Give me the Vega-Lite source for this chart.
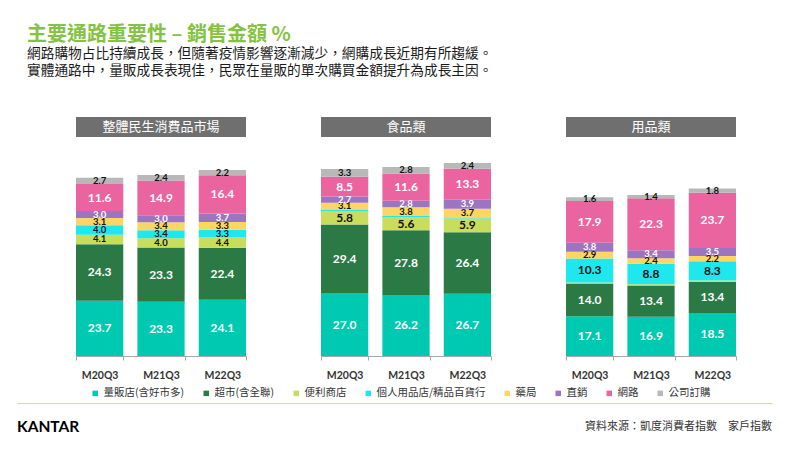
{
  "$schema": "https://vega.github.io/schema/vega-lite/v6.json",
  "background": "white",
  "padding": {"left": 17, "top": 25, "right": 10, "bottom": 5},
  "title": {
    "text": "主要通路重要性 – 銷售金額 %",
    "subtitle": ["網路購物占比持續成長，但隨著疫情影響逐漸減少，網購成長近期有所趨緩。", "實體通路中，量販成長表現佳，民眾在量販的單次購買金額提升為成長主因。"],
    "anchor": "start", "dx": 10,
    "font": "Noto Sans CJK TC", "fontSize": 20, "fontWeight": "bold", "color": "#84c341",
    "subtitleFont": "Noto Sans CJK TC", "subtitleFontSize": 13.7, "subtitleColor": "#1a1a1a",
    "subtitleLineHeight": 16.5, "subtitlePadding": 2, "offset": 39.5
  },
  "datasets": {
    "chs": [
      {"ch": "量販店(含好市多)", "k": 1}, {"ch": "超市(含全聯)", "k": 2}, {"ch": "便利商店", "k": 3},
      {"ch": "個人用品店/精品百貨行", "k": 4}, {"ch": "藥局", "k": 5}, {"ch": "直銷", "k": 6},
      {"ch": "網路", "k": 7}, {"ch": "公司訂購", "k": 8}
    ],
    "main": [
      {"p": "整體民生消費品市場", "q": "M20Q3", "ch": "量販店(含好市多)", "v": 23.7},
      {"p": "整體民生消費品市場", "q": "M20Q3", "ch": "超市(含全聯)", "v": 24.3},
      {"p": "整體民生消費品市場", "q": "M20Q3", "ch": "便利商店", "v": 4.1},
      {"p": "整體民生消費品市場", "q": "M20Q3", "ch": "個人用品店/精品百貨行", "v": 4.0},
      {"p": "整體民生消費品市場", "q": "M20Q3", "ch": "藥局", "v": 3.1},
      {"p": "整體民生消費品市場", "q": "M20Q3", "ch": "直銷", "v": 3.0},
      {"p": "整體民生消費品市場", "q": "M20Q3", "ch": "網路", "v": 11.6},
      {"p": "整體民生消費品市場", "q": "M20Q3", "ch": "公司訂購", "v": 2.7},
      {"p": "整體民生消費品市場", "q": "M21Q3", "ch": "量販店(含好市多)", "v": 23.3},
      {"p": "整體民生消費品市場", "q": "M21Q3", "ch": "超市(含全聯)", "v": 23.3},
      {"p": "整體民生消費品市場", "q": "M21Q3", "ch": "便利商店", "v": 4.0},
      {"p": "整體民生消費品市場", "q": "M21Q3", "ch": "個人用品店/精品百貨行", "v": 3.4},
      {"p": "整體民生消費品市場", "q": "M21Q3", "ch": "藥局", "v": 3.4},
      {"p": "整體民生消費品市場", "q": "M21Q3", "ch": "直銷", "v": 3.0},
      {"p": "整體民生消費品市場", "q": "M21Q3", "ch": "網路", "v": 14.9},
      {"p": "整體民生消費品市場", "q": "M21Q3", "ch": "公司訂購", "v": 2.4},
      {"p": "整體民生消費品市場", "q": "M22Q3", "ch": "量販店(含好市多)", "v": 24.1},
      {"p": "整體民生消費品市場", "q": "M22Q3", "ch": "超市(含全聯)", "v": 22.4},
      {"p": "整體民生消費品市場", "q": "M22Q3", "ch": "便利商店", "v": 4.4},
      {"p": "整體民生消費品市場", "q": "M22Q3", "ch": "個人用品店/精品百貨行", "v": 3.3},
      {"p": "整體民生消費品市場", "q": "M22Q3", "ch": "藥局", "v": 3.3},
      {"p": "整體民生消費品市場", "q": "M22Q3", "ch": "直銷", "v": 3.7},
      {"p": "整體民生消費品市場", "q": "M22Q3", "ch": "網路", "v": 16.4},
      {"p": "整體民生消費品市場", "q": "M22Q3", "ch": "公司訂購", "v": 2.2},
      {"p": "食品類", "q": "M20Q3", "ch": "量販店(含好市多)", "v": 27.0},
      {"p": "食品類", "q": "M20Q3", "ch": "超市(含全聯)", "v": 29.4},
      {"p": "食品類", "q": "M20Q3", "ch": "便利商店", "v": 5.8},
      {"p": "食品類", "q": "M20Q3", "ch": "個人用品店/精品百貨行", "v": 0.5},
      {"p": "食品類", "q": "M20Q3", "ch": "藥局", "v": 3.1},
      {"p": "食品類", "q": "M20Q3", "ch": "直銷", "v": 2.7},
      {"p": "食品類", "q": "M20Q3", "ch": "網路", "v": 8.5},
      {"p": "食品類", "q": "M20Q3", "ch": "公司訂購", "v": 3.3},
      {"p": "食品類", "q": "M21Q3", "ch": "量販店(含好市多)", "v": 26.2},
      {"p": "食品類", "q": "M21Q3", "ch": "超市(含全聯)", "v": 27.8},
      {"p": "食品類", "q": "M21Q3", "ch": "便利商店", "v": 5.6},
      {"p": "食品類", "q": "M21Q3", "ch": "個人用品店/精品百貨行", "v": 0.5},
      {"p": "食品類", "q": "M21Q3", "ch": "藥局", "v": 3.8},
      {"p": "食品類", "q": "M21Q3", "ch": "直銷", "v": 2.8},
      {"p": "食品類", "q": "M21Q3", "ch": "網路", "v": 11.6},
      {"p": "食品類", "q": "M21Q3", "ch": "公司訂購", "v": 2.8},
      {"p": "食品類", "q": "M22Q3", "ch": "量販店(含好市多)", "v": 26.7},
      {"p": "食品類", "q": "M22Q3", "ch": "超市(含全聯)", "v": 26.4},
      {"p": "食品類", "q": "M22Q3", "ch": "便利商店", "v": 5.9},
      {"p": "食品類", "q": "M22Q3", "ch": "個人用品店/精品百貨行", "v": 0.5},
      {"p": "食品類", "q": "M22Q3", "ch": "藥局", "v": 3.7},
      {"p": "食品類", "q": "M22Q3", "ch": "直銷", "v": 3.9},
      {"p": "食品類", "q": "M22Q3", "ch": "網路", "v": 13.3},
      {"p": "食品類", "q": "M22Q3", "ch": "公司訂購", "v": 2.4},
      {"p": "用品類", "q": "M20Q3", "ch": "量販店(含好市多)", "v": 17.1},
      {"p": "用品類", "q": "M20Q3", "ch": "超市(含全聯)", "v": 14.0},
      {"p": "用品類", "q": "M20Q3", "ch": "便利商店", "v": 0.5},
      {"p": "用品類", "q": "M20Q3", "ch": "個人用品店/精品百貨行", "v": 10.3},
      {"p": "用品類", "q": "M20Q3", "ch": "藥局", "v": 2.9},
      {"p": "用品類", "q": "M20Q3", "ch": "直銷", "v": 3.8},
      {"p": "用品類", "q": "M20Q3", "ch": "網路", "v": 17.9},
      {"p": "用品類", "q": "M20Q3", "ch": "公司訂購", "v": 1.6},
      {"p": "用品類", "q": "M21Q3", "ch": "量販店(含好市多)", "v": 16.9},
      {"p": "用品類", "q": "M21Q3", "ch": "超市(含全聯)", "v": 13.4},
      {"p": "用品類", "q": "M21Q3", "ch": "便利商店", "v": 0.5},
      {"p": "用品類", "q": "M21Q3", "ch": "個人用品店/精品百貨行", "v": 8.8},
      {"p": "用品類", "q": "M21Q3", "ch": "藥局", "v": 2.4},
      {"p": "用品類", "q": "M21Q3", "ch": "直銷", "v": 3.4},
      {"p": "用品類", "q": "M21Q3", "ch": "網路", "v": 22.3},
      {"p": "用品類", "q": "M21Q3", "ch": "公司訂購", "v": 1.4},
      {"p": "用品類", "q": "M22Q3", "ch": "量販店(含好市多)", "v": 18.5},
      {"p": "用品類", "q": "M22Q3", "ch": "超市(含全聯)", "v": 13.4},
      {"p": "用品類", "q": "M22Q3", "ch": "便利商店", "v": 0.5},
      {"p": "用品類", "q": "M22Q3", "ch": "個人用品店/精品百貨行", "v": 8.3},
      {"p": "用品類", "q": "M22Q3", "ch": "藥局", "v": 2.2},
      {"p": "用品類", "q": "M22Q3", "ch": "直銷", "v": 3.5},
      {"p": "用品類", "q": "M22Q3", "ch": "網路", "v": 23.7},
      {"p": "用品類", "q": "M22Q3", "ch": "公司訂購", "v": 1.8}
    ]
  },
  "vconcat": [
    {
      "hconcat": [
        {
          "width": 170, "height": 239,
          "layer": [
            {
              "data": {"name": "main"},
              "transform": [
                {"filter": "datum.p === '整體民生消費品市場'"},
                {"lookup": "ch", "from": {"data": {"name": "chs"}, "key": "ch", "fields": ["k"]}}
              ],
              "layer": [
                {
                  "mark": {"type": "bar"},
                  "encoding": {
                    "x": {"field": "q", "type": "nominal", "scale": {"paddingInner": 0.23, "paddingOuter": 0},
                      "axis": {"title": null, "labelAngle": 0, "tickBand": "extent", "labelFont": "Lato", "labelFontWeight": "bold", "labelFontSize": 10.5, "labelColor": "#333333", "domainColor": "#a6a6a6", "tickColor": "#a6a6a6", "tickSize": 4, "labelPadding": 10}},
                    "y": {"field": "v", "type": "quantitative", "stack": "zero", "scale": {"domain": [0, 102.6], "nice": false},
                      "axis": {"labels": false, "ticks": false, "domain": false, "grid": false, "title": null, "minExtent": 59, "maxExtent": 59}},
                    "color": {"field": "ch", "type": "nominal",
                      "scale": {"domain": ["量販店(含好市多)", "超市(含全聯)", "便利商店", "個人用品店/精品百貨行", "藥局", "直銷", "網路", "公司訂購"],
                        "range": ["#00c9b1", "#2b7a46", "#c8dd5c", "#1ee8ee", "#fcd564", "#9b74c2", "#ea64a0", "#b8b8b8"]},
                      "legend": {"orient": "none", "legendX": 14, "legendY": 271, "direction": "horizontal", "title": null, "symbolType": "square", "symbolSize": 30, "labelFont": "Noto Sans CJK TC", "labelFontSize": 10.5, "labelColor": "#333333", "columnPadding": 16, "labelOffset": 3}},
                    "order": {"field": "k", "type": "quantitative"}
                  }
                },
                {
                  "mark": {"type": "text", "font": "Lato", "fontWeight": "bold"},
                  "encoding": {
                    "x": {"field": "q", "type": "nominal"},
                    "y": {"field": "v", "type": "quantitative", "stack": "zero", "bandPosition": 0.5},
                    "detail": {"field": "ch"},
                    "order": {"field": "k", "type": "quantitative"},
                    "text": {"condition": {"test": "datum.v < 1", "value": ""}, "field": "v", "type": "quantitative", "format": ".1f"},
                    "color": {"condition": {"test": "datum.k == 1 || datum.k == 2 || datum.k == 6 || datum.k == 7", "value": "white"}, "value": "#111111"},
                    "size": {"condition": {"test": "datum.v < 4.5", "value": 9.5}, "value": 12}
                  }
                }
              ]
            },
            {
              "data": {"values": [{"h": "整體民生消費品市場"}]},
              "layer": [
                {"mark": {"type": "rect", "color": "#6f6f6f"}, "encoding": {"y": {"datum": 94, "type": "quantitative"}, "y2": {"datum": 102.6}}},
                {"mark": {"type": "text", "color": "white", "font": "Noto Sans CJK TC", "fontSize": 13}, "encoding": {"y": {"datum": 98.3, "type": "quantitative"}, "text": {"field": "h"}}}
              ]
            }
          ]
        },
        {
          "width": 170, "height": 239,
          "layer": [
            {
              "data": {"name": "main"},
              "transform": [
                {"filter": "datum.p === '食品類'"},
                {"lookup": "ch", "from": {"data": {"name": "chs"}, "key": "ch", "fields": ["k"]}}
              ],
              "layer": [
                {
                  "mark": {"type": "bar"},
                  "encoding": {
                    "x": {"field": "q", "type": "nominal", "scale": {"paddingInner": 0.23, "paddingOuter": 0},
                      "axis": {"title": null, "labelAngle": 0, "tickBand": "extent", "labelFont": "Lato", "labelFontWeight": "bold", "labelFontSize": 10.5, "labelColor": "#333333", "domainColor": "#a6a6a6", "tickColor": "#a6a6a6", "tickSize": 4, "labelPadding": 10}},
                    "y": {"field": "v", "type": "quantitative", "stack": "zero", "scale": {"domain": [0, 102.6], "nice": false}, "axis": null},
                    "color": {"field": "ch", "type": "nominal"},
                    "order": {"field": "k", "type": "quantitative"}
                  }
                },
                {
                  "mark": {"type": "text", "font": "Lato", "fontWeight": "bold"},
                  "encoding": {
                    "x": {"field": "q", "type": "nominal"},
                    "y": {"field": "v", "type": "quantitative", "stack": "zero", "bandPosition": 0.5},
                    "detail": {"field": "ch"},
                    "order": {"field": "k", "type": "quantitative"},
                    "text": {"condition": {"test": "datum.v < 1", "value": ""}, "field": "v", "type": "quantitative", "format": ".1f"},
                    "color": {"condition": {"test": "datum.k == 1 || datum.k == 2 || datum.k == 6 || datum.k == 7", "value": "white"}, "value": "#111111"},
                    "size": {"condition": {"test": "datum.v < 4.5", "value": 9.5}, "value": 12}
                  }
                }
              ]
            },
            {
              "data": {"values": [{"h": "食品類"}]},
              "layer": [
                {"mark": {"type": "rect", "color": "#6f6f6f"}, "encoding": {"y": {"datum": 94, "type": "quantitative"}, "y2": {"datum": 102.6}}},
                {"mark": {"type": "text", "color": "white", "font": "Noto Sans CJK TC", "fontSize": 13}, "encoding": {"y": {"datum": 98.3, "type": "quantitative"}, "text": {"field": "h"}}}
              ]
            }
          ]
        },
        {
          "width": 170, "height": 239,
          "layer": [
            {
              "data": {"name": "main"},
              "transform": [
                {"filter": "datum.p === '用品類'"},
                {"lookup": "ch", "from": {"data": {"name": "chs"}, "key": "ch", "fields": ["k"]}}
              ],
              "layer": [
                {
                  "mark": {"type": "bar"},
                  "encoding": {
                    "x": {"field": "q", "type": "nominal", "scale": {"paddingInner": 0.23, "paddingOuter": 0},
                      "axis": {"title": null, "labelAngle": 0, "tickBand": "extent", "labelFont": "Lato", "labelFontWeight": "bold", "labelFontSize": 10.5, "labelColor": "#333333", "domainColor": "#a6a6a6", "tickColor": "#a6a6a6", "tickSize": 4, "labelPadding": 10}},
                    "y": {"field": "v", "type": "quantitative", "stack": "zero", "scale": {"domain": [0, 102.6], "nice": false}, "axis": null},
                    "color": {"field": "ch", "type": "nominal"},
                    "order": {"field": "k", "type": "quantitative"}
                  }
                },
                {
                  "mark": {"type": "text", "font": "Lato", "fontWeight": "bold"},
                  "encoding": {
                    "x": {"field": "q", "type": "nominal"},
                    "y": {"field": "v", "type": "quantitative", "stack": "zero", "bandPosition": 0.5},
                    "detail": {"field": "ch"},
                    "order": {"field": "k", "type": "quantitative"},
                    "text": {"condition": {"test": "datum.v < 1", "value": ""}, "field": "v", "type": "quantitative", "format": ".1f"},
                    "color": {"condition": {"test": "datum.k == 1 || datum.k == 2 || datum.k == 6 || datum.k == 7", "value": "white"}, "value": "#111111"},
                    "size": {"condition": {"test": "datum.v < 4.5", "value": 9.5}, "value": 12}
                  }
                }
              ]
            },
            {
              "data": {"values": [{"h": "用品類"}]},
              "layer": [
                {"mark": {"type": "rect", "color": "#6f6f6f"}, "encoding": {"y": {"datum": 94, "type": "quantitative"}, "y2": {"datum": 102.6}}},
                {"mark": {"type": "text", "color": "white", "font": "Noto Sans CJK TC", "fontSize": 13}, "encoding": {"y": {"datum": 98.3, "type": "quantitative"}, "text": {"field": "h"}}}
              ]
            }
          ]
        }
      ],
      "spacing": 73,
      "resolve": {"scale": {"color": "shared"}, "legend": {"color": "shared"}}
    },
    {
      "width": 696, "height": 48,
      "data": {"values": [{"t": "KANTAR", "s": "L"}, {"t": "資料來源：凱度消費者指數　家戶指數", "s": "R"}]},
      "layer": [
        {
          "transform": [{"filter": "datum.s === 'L'"}],
          "mark": {"type": "text", "align": "left", "font": "Lato", "fontWeight": "bold", "fontSize": 15.5, "color": "#000000"},
          "encoding": {
            "x": {"field": "s", "type": "nominal", "scale": {"type": "point", "padding": 0, "domain": ["L", "R"], "range": [-59, 696]},
              "axis": {"orient": "top", "labels": false, "ticks": false, "title": null, "domainColor": "#dccb7a", "domainOpacity": 0.8}},
            "text": {"field": "t"}
          }
        },
        {
          "transform": [{"filter": "datum.s === 'R'"}],
          "mark": {"type": "text", "align": "right", "font": "Noto Sans CJK TC", "fontSize": 11, "color": "#333333"},
          "encoding": {
            "x": {"field": "s", "type": "nominal"},
            "text": {"field": "t"}
          }
        }
      ]
    }
  ],
  "spacing": 4,
  "resolve": {"legend": {"color": "independent"}},
  "config": {"view": {"stroke": null}}
}
